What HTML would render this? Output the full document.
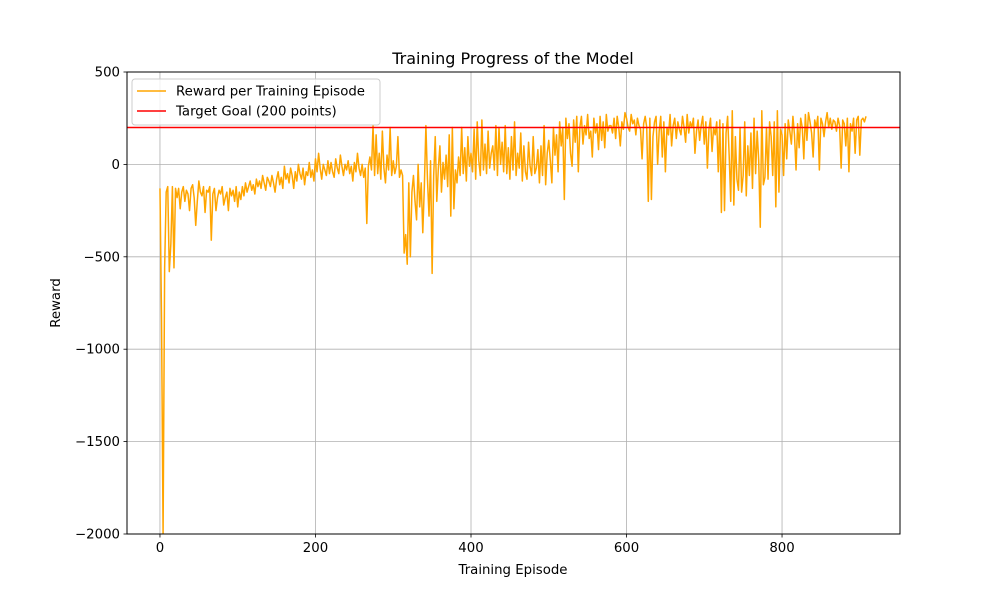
<!DOCTYPE html>
<html><head><meta charset="utf-8"><style>
body{margin:0;background:#fff;}
svg{display:block;font-family:"DejaVu Sans","Liberation Sans",sans-serif;}
</style></head><body>
<svg id="chart" width="1000" height="600">
<rect x="0" y="0" width="1000" height="600" fill="#fff"/>
<text x="513" y="64" font-size="16" text-anchor="middle">Training Progress of the Model</text>
<text x="513" y="574" font-size="13.3" text-anchor="middle">Training Episode</text>
<text x="60" y="303" font-size="13.3" text-anchor="middle" transform="rotate(-90 60 303)">Reward</text>
<g id="grid"></g>
<g id="plot"></g>
<rect x="127" y="72" width="773" height="462" fill="none" stroke="#000" stroke-width="1"/>
<g id="ticks"></g>
<g>
<rect x="132" y="79" width="248" height="46" rx="3" fill="#fff" fill-opacity="0.8" stroke="#ccc"/>
<line x1="137" y1="91" x2="166" y2="91" stroke="#FFA500" stroke-width="1.5"/>
<text x="176" y="95.5" font-size="13.3">Reward per Training Episode</text>
<line x1="137" y1="111" x2="166" y2="111" stroke="#FF0000" stroke-width="1.5"/>
<text x="176" y="115.5" font-size="13.3">Target Goal (200 points)</text>
</g>
</svg>
<script>
const xTicks=[0,200,400,600,800];
const yTicks=[500,0,-500,-1000,-1500,-2000];
const yTickLabels=["500","0","\u2212500","\u22121000","\u22121500","\u22122000"];
const targetGoal=200;
const episodeStep=2;
const rewards=[
-130,-830,-2000,-560,-150,-120,-580,-430,-120,-560,
-130,-180,-130,-240,-150,-120,-200,-140,-160,-250,
-130,-110,-180,-330,-200,-90,-150,-170,-120,-260,
-140,-150,-120,-410,-160,-130,-250,-180,-140,-160,
-120,-220,-180,-150,-250,-130,-170,-140,-200,-120,
-230,-150,-190,-120,-170,-100,-150,-120,-90,-140,
-110,-160,-80,-120,-90,-130,-60,-100,-140,-70,
-90,-120,-60,-100,-150,-80,-40,-110,-70,-130,
-10,-80,-50,-100,-20,-60,-130,-40,-90,0,
-50,-80,-20,-110,-40,-60,10,-70,-30,-90,
30,-40,60,-20,-80,0,-30,-60,20,-50,
10,-40,-70,30,-20,-50,50,-10,-60,0,
-30,20,-50,-10,-90,10,-40,60,-20,-60,
0,-70,-20,-320,-10,40,-30,210,-60,160,
-50,60,-80,180,-20,-100,50,-30,200,-60,
20,-50,-10,150,-70,-30,-60,-480,-380,-540,
-100,-500,-150,-60,-200,-300,0,-230,-100,-370,
-120,210,-80,-280,20,-590,-60,150,-200,-20,
100,-150,10,-80,50,-120,160,-280,200,-240,
-30,-100,40,-60,200,-50,90,-90,150,-10,
60,-40,190,-80,230,20,-60,240,-30,110,
-50,180,-20,60,100,-30,210,-60,200,0,
120,-40,210,-50,90,-80,150,-30,230,-60,
60,-20,170,-90,100,-40,-80,120,-10,-60,
150,-50,-20,80,-100,100,-60,210,-110,60,
130,20,-100,200,50,160,-40,230,100,200,
-190,250,140,220,60,-10,240,120,260,-40,
200,260,110,210,160,270,140,180,40,250,
170,220,80,260,130,230,90,270,180,210,
210,170,250,140,260,200,100,230,190,280,
250,200,180,270,220,240,160,250,210,190,
30,220,260,200,-200,250,-190,150,230,260,
0,180,260,40,230,-40,200,160,270,100,
210,250,140,230,190,160,260,200,120,270,
170,230,200,250,60,180,240,130,210,260,
110,230,-20,190,250,70,200,160,230,-40,
240,-260,220,-250,170,260,50,-200,290,-220,
150,-80,-140,200,-150,-60,230,-170,100,-60,
170,-130,250,-50,180,20,-340,290,-110,-70,
200,-80,230,150,-60,230,-230,290,-150,190,
160,-60,220,30,240,180,110,260,160,-30,
220,90,250,200,30,270,130,280,230,170,
40,240,200,260,-30,250,220,150,230,280,
200,250,190,240,230,180,250,210,-20,240,
220,100,250,-40,220,180,250,60,240,260,
50,240,250,230,260
];
const NS="http://www.w3.org/2000/svg";
const L=127,R=900,T=72,B=534;
const X0=-42.4,X1=951.7,Y0=-2000,Y1=500;
function sx(v){return L+(v-X0)/(X1-X0)*(R-L);}
function sy(v){return B-(v-Y0)/(Y1-Y0)*(B-T);}
function mk(tag,attrs,parent){const e=document.createElementNS(NS,tag);for(const k in attrs)e.setAttribute(k,attrs[k]);parent.appendChild(e);return e;}
const grid=document.getElementById('grid'),ticks=document.getElementById('ticks'),plot=document.getElementById('plot');
xTicks.forEach(v=>{
  const g=mk('line',{x1:sx(v),x2:sx(v),y1:T,y2:B,stroke:'#b0b0b0','stroke-width':0.8},grid);
  
  
  mk('line',{x1:sx(v),x2:sx(v),y1:B,y2:B+3.5,stroke:'#000','stroke-width':0.8},ticks);
  const t=mk('text',{x:sx(v),y:B+18,'font-size':13.3,'text-anchor':'middle'},ticks);
  t.textContent=v;
  
  
});
yTicks.forEach((v,i)=>{
  const g=mk('line',{x1:L,x2:R,y1:sy(v),y2:sy(v),stroke:'#b0b0b0','stroke-width':0.8},grid);
  
  
  mk('line',{x1:L-3.5,x2:L,y1:sy(v),y2:sy(v),stroke:'#000','stroke-width':0.8},ticks);
  const t=mk('text',{x:L-7,y:sy(v)+4.5,'font-size':13.3,'text-anchor':'end'},ticks);
  t.textContent=yTickLabels[i];
  
  
});
const cp=mk('clipPath',{id:'clip'},plot);
mk('rect',{x:L,y:T,width:R-L,height:B-T},cp);
const pts=rewards.map((r,i)=>sx(i*episodeStep).toFixed(2)+','+sy(r).toFixed(2)).join(' ');
const line=mk('polyline',{points:pts,fill:'none',stroke:'#FFA500','stroke-width':1.5,'stroke-linejoin':'round','clip-path':'url(#clip)'},plot);


const tg=mk('line',{x1:L,x2:R,y1:sy(targetGoal),y2:sy(targetGoal),stroke:'#FF0000','stroke-width':1.5},plot);


</script>
</body></html>
